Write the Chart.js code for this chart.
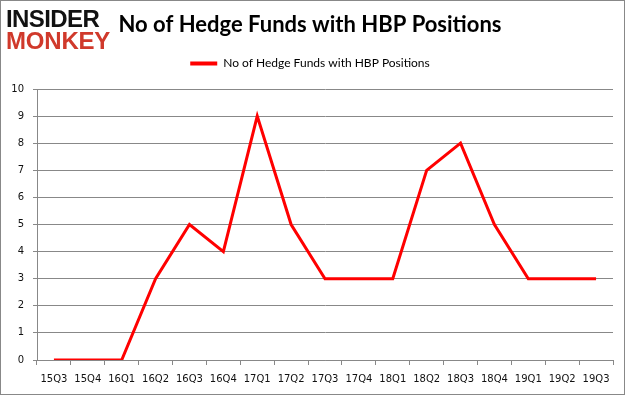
<!DOCTYPE html>
<html>
<head>
<meta charset="utf-8">
<script src="https://cdn.jsdelivr.net/npm/chart.js@4/dist/chart.umd.min.js"></script>
<style>
  html, body { margin: 0; padding: 0; background: #fff; }
  #wrap { position: relative; width: 625px; height: 395px; box-sizing: border-box; border: 1px solid #888; overflow: hidden; }
  #c { position: absolute; left: 0; top: 0; }
  .logo { position: absolute; left: 5px; font-family: "Liberation Sans", Arial, sans-serif; font-weight: bold; font-size: 24px; line-height: 1; white-space: nowrap; }
  #l1 { top: 6px; color: #111; letter-spacing: -0.6px; }
  #l2 { top: 28px; color: #d0392b; letter-spacing: -0.2px; }
</style>
</head>
<body>
<div id="wrap">
  <canvas id="c" width="625" height="395"></canvas>
  <div class="logo" id="l1">INSIDER</div>
  <div class="logo" id="l2">MONKEY</div>
</div>
<script>
const categories = ["15Q3","15Q4","16Q1","16Q2","16Q3","16Q4","17Q1","17Q2","17Q3","17Q4","18Q1","18Q2","18Q3","18Q4","19Q1","19Q2","19Q3"];
const hedgeFunds = [0,0,0,3,5,4,9,5,3,3,3,7,8,5,3,3,3];
const yTicks = [0,1,2,3,4,5,6,7,8,9,10];
const seriesName = "No of Hedge Funds with HBP Positions";
const chartTitle = "No of Hedge Funds with HBP Positions";

const legendHeight = {
  id: 'legendHeight',
  beforeInit(chart) {
    const orig = chart.legend.fit;
    chart.legend.fit = function () {
      orig.call(this);
      this.height = 41.6;
    };
  }
};

new Chart(document.getElementById('c'), {
  type: 'line',
  data: {
    labels: categories,
    datasets: [{
      label: seriesName,
      data: hedgeFunds,
      borderColor: '#ff0000',
      backgroundColor: '#ff0000',
      borderWidth: 3,
      pointRadius: 0,
      tension: 0,
      fill: false
    }]
  },
  options: {
    responsive: false,
    animation: false,
    layout: { padding: { left: 6, right: 13, top: 0, bottom: 0 } },
    plugins: {
      title: {
        display: true,
        text: chartTitle,
        color: '#000',
        font: { family: 'Lato', size: 22, weight: 'bold', lineHeight: 1.2 },
        padding: { top: 11, bottom: 9 }
      },
      legend: {
        display: true,
        labels: {
          color: '#000',
          font: { family: 'Lato', size: 12 },
          boxWidth: 27,
          boxHeight: 4,
          padding: 10,
          generateLabels(chart) {
            const items = Chart.defaults.plugins.legend.labels.generateLabels(chart);
            items.forEach(i => { i.lineWidth = 0; i.fillStyle = '#ff0000'; });
            return items;
          }
        }
      },
      tooltip: { enabled: false }
    },
    scales: {
      x: {
        offset: true,
        grid: { offset: true, drawOnChartArea: false, drawTicks: true, tickLength: 5, color: '#888' },
        border: { display: true, color: '#888' },
        ticks: { color: '#111', font: { family: 'DejaVu Sans', size: 10 }, padding: 8, maxRotation: 0, autoSkip: false },
        afterFit(scale) { scale.height = 36; }
      },
      y: {
        min: 0, max: 10,
        afterBuildTicks(scale) { scale.ticks = yTicks.map(v => ({ value: v })); },
        grid: { color: '#888', tickLength: 4 },
        border: { display: true, color: '#888' },
        ticks: { color: '#111', font: { family: 'DejaVu Sans', size: 10 }, padding: 9 },
        afterFit(scale) { scale.width = 30; }
      }
    }
  },
  plugins: [legendHeight]
});
</script>
</body>
</html>
